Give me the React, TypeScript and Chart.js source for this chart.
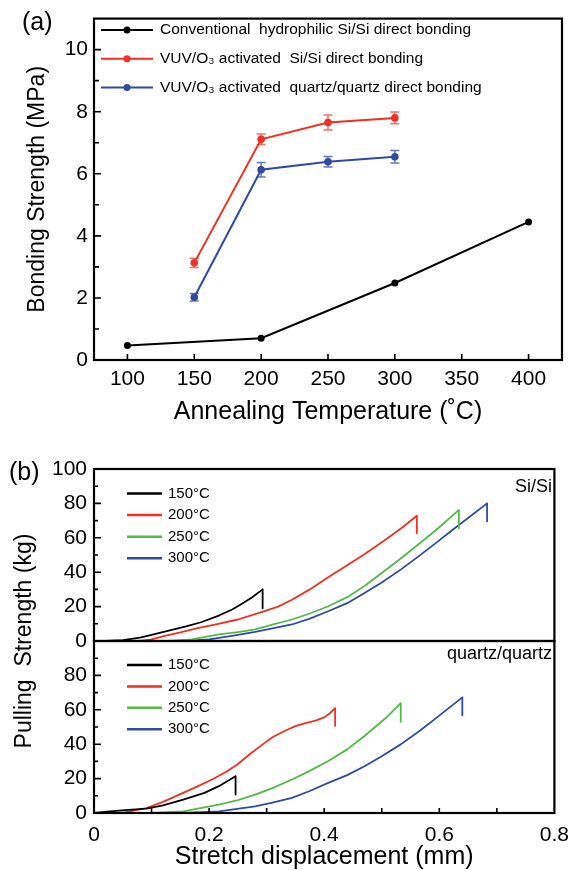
import React, { useEffect, useRef } from 'react';
import { Chart, registerables } from 'chart.js';

Chart.register(...registerables);

const FONT = '"Liberation Sans", Arial, Helvetica, sans-serif';
const BLACK = '#000000';
const RED = '#ee3124';
const BLUE = '#2f4a9f';
const GREEN = '#55b948';
const RED_ERR = 'rgba(238,49,36,0.7)';
const BLUE_ERR = 'rgba(47,74,159,0.75)';

// ---------- Panel (a) data ----------
const seriesLabelsA = [
  'Conventional  hydrophilic Si/Si direct bonding',
  'VUV/O\u2083 activated  Si/Si direct bonding',
  'VUV/O\u2083 activated  quartz/quartz direct bonding',
];
const tempsConventional = [100, 200, 300, 400];
const strengthConventional = [0.47, 0.7, 2.48, 4.45];
const tempsVuv = [150, 200, 250, 300];
const strengthVuvSi = [3.13, 7.11, 7.65, 7.8];
const errorVuvSi = [0.15, 0.17, 0.24, 0.19];
const strengthVuvQuartz = [2.02, 6.13, 6.39, 6.55];
const errorVuvQuartz = [0.12, 0.23, 0.17, 0.2];
const xTicksA = [100, 150, 200, 250, 300, 350, 400];
const yTicksA = [0, 2, 4, 6, 8, 10];

// ---------- Panel (b) data ----------
const tempLabelsB = ['150\u00b0C', '200\u00b0C', '250\u00b0C', '300\u00b0C'];

const siX150 = [0.02, 0.05, 0.08, 0.1, 0.13, 0.16, 0.186, 0.217, 0.24, 0.255, 0.275, 0.293, 0.293];
const siY150 = [0, 0.5, 2, 3.5, 6, 8.5, 10.9, 14.8, 18.3, 21.2, 25.4, 30, 19];
const siX200 = [0.08, 0.1, 0.123, 0.15, 0.18, 0.21, 0.25, 0.287, 0.32, 0.344, 0.375, 0.407, 0.44, 0.47, 0.507, 0.535, 0.561, 0.561];
const siY200 = [0, 1, 3, 5, 7.5, 9.5, 12.5, 16.3, 20, 24, 30, 37, 44, 50.5, 59, 65.8, 72.8, 62.7];
const siX250 = [0.13, 0.17, 0.217, 0.25, 0.28, 0.31, 0.344, 0.375, 0.407, 0.44, 0.47, 0.5, 0.533, 0.565, 0.596, 0.634, 0.634];
const siY250 = [0, 1, 3.8, 5.2, 6.7, 9.5, 12.5, 16, 20.2, 25.5, 32, 39.5, 48, 56.5, 65, 76.2, 65.6];
const siX300 = [0.16, 0.2, 0.24, 0.28, 0.31, 0.344, 0.375, 0.407, 0.44, 0.47, 0.5, 0.533, 0.565, 0.596, 0.62, 0.646, 0.683, 0.683];
const siY300 = [0, 1, 3, 5.3, 7.3, 9.6, 13, 17.3, 22, 27.9, 34, 41.5, 49.5, 57.5, 63.8, 70.5, 80, 69.5];

const qzX150 = [0, 0.028, 0.06, 0.091, 0.12, 0.155, 0.192, 0.217, 0.246, 0.246];
const qzY150 = [0, 1, 1.8, 2.5, 4.5, 7.8, 11.7, 15.6, 21.4, 10.7];
const qzX200 = [0.05, 0.07, 0.091, 0.12, 0.155, 0.18, 0.205, 0.23, 0.249, 0.27, 0.293, 0.31, 0.331, 0.35, 0.369, 0.385, 0.4, 0.41, 0.419, 0.419];
const qzY200 = [0, 1.5, 2.9, 6.5, 11.7, 15.5, 19.5, 24, 28.2, 34, 39.9, 44, 47.7, 50.5, 52.4, 53.7, 55.6, 58, 61, 50.6];
const qzX250 = [0.101, 0.155, 0.217, 0.25, 0.28, 0.31, 0.344, 0.375, 0.407, 0.44, 0.47, 0.507, 0.533, 0.533];
const qzY250 = [0, 1, 4.9, 7.5, 10.7, 14.5, 19.5, 24.5, 30.2, 37, 44.8, 55.2, 63.9, 53];
const qzX300 = [0.155, 0.217, 0.28, 0.31, 0.344, 0.375, 0.407, 0.44, 0.47, 0.5, 0.533, 0.565, 0.596, 0.64, 0.64];
const qzY300 = [0, 1, 3.9, 6, 8.8, 12.8, 17.5, 22, 27.2, 33, 39.9, 47.5, 55.6, 67.2, 56.9];

const xTicksB = [0, 0.2, 0.4, 0.6, 0.8];
const xTickLabelsB = ['0', '0.2', '0.4', '0.6', '0.8'];
const yTicksTopB = [0, 20, 40, 60, 80, 100];
const yTicksBotB = [0, 20, 40, 60, 80];

const toPoints = (xs: number[], ys: number[]) => xs.map((x, i) => ({ x, y: ys[i] }));

// ---------- plugins ----------
const innerTicksPlugin = {
  id: 'innerTicks',
  afterDatasetsDraw(chart: any, _a: any, opts: any) {
    const ctx = chart.ctx;
    ctx.save();
    ctx.strokeStyle = '#000';
    ctx.lineWidth = opts.lineWidth || 1.6;
    ctx.beginPath();
    for (const spec of opts.axes || []) {
      const s = chart.scales[spec.id];
      if (!s) continue;
      const n = Math.round((spec.to - spec.from) / spec.step);
      for (let i = 0; i <= n; i++) {
        const v = spec.from + i * spec.step;
        const r = v / spec.majorStep;
        const major = Math.abs(r - Math.round(r)) < 1e-6;
        const len = major ? spec.majorLen : spec.minorLen;
        const p = s.getPixelForValue(v);
        if (s.isHorizontal()) {
          ctx.moveTo(p, s.top);
          ctx.lineTo(p, s.top - len);
        } else {
          ctx.moveTo(s.right, p);
          ctx.lineTo(s.right + len, p);
        }
      }
    }
    ctx.stroke();
    ctx.restore();
  },
};

const framePlugin = {
  id: 'frame',
  afterDatasetsDraw(chart: any, _a: any, opts: any) {
    const { ctx, chartArea } = chart;
    ctx.save();
    ctx.strokeStyle = '#000';
    ctx.lineWidth = opts.lineWidth || 2;
    for (const id of opts.yIds || []) {
      const s = chart.scales[id];
      ctx.strokeRect(chartArea.left, s.top, chartArea.right - chartArea.left, s.bottom - s.top);
    }
    ctx.restore();
  },
};

const errorBarPlugin = {
  id: 'errorBars',
  beforeDatasetDraw(chart: any, args: any, opts: any) {
    const ds: any = chart.data.datasets[args.index];
    if (!ds.errorBars) return;
    const ctx = chart.ctx;
    const meta = args.meta;
    const ys = chart.scales[meta.yAxisID];
    const cap = opts.cap || 4;
    ctx.save();
    ctx.strokeStyle = ds.errorColor || ds.borderColor;
    ctx.lineWidth = opts.lineWidth || 1.5;
    meta.data.forEach((el: any, i: number) => {
      const v = ds.data[i].y;
      const e = ds.errorBars[i];
      const x = el.x;
      const y1 = ys.getPixelForValue(v + e);
      const y2 = ys.getPixelForValue(v - e);
      ctx.beginPath();
      ctx.moveTo(x, y1);
      ctx.lineTo(x, y2);
      ctx.moveTo(x - cap, y1);
      ctx.lineTo(x + cap, y1);
      ctx.moveTo(x - cap, y2);
      ctx.lineTo(x + cap, y2);
      ctx.stroke();
    });
    ctx.restore();
  },
};

const boxLegendPlugin = {
  id: 'boxLegend',
  afterDatasetsDraw(chart: any, _a: any, opts: any) {
    const ctx = chart.ctx;
    for (const g of opts.groups || []) {
      g.datasets.forEach((di: number, k: number) => {
        const ds: any = chart.data.datasets[di];
        const y = g.y + k * g.dy;
        ctx.save();
        ctx.strokeStyle = ds.borderColor;
        ctx.lineWidth = g.lineWidth;
        ctx.beginPath();
        ctx.moveTo(g.x, y);
        ctx.lineTo(g.x + g.lineLen, y);
        ctx.stroke();
        if (g.pointRadius) {
          ctx.fillStyle = ds.borderColor;
          ctx.beginPath();
          ctx.arc(g.x + g.lineLen / 2, y, g.pointRadius, 0, Math.PI * 2);
          ctx.fill();
        }
        ctx.fillStyle = '#000';
        ctx.font = `${g.fontSize}px ${FONT}`;
        ctx.textBaseline = 'middle';
        ctx.textAlign = 'left';
        ctx.fillText(ds.label, g.x + g.lineLen + g.gap, y);
        ctx.restore();
      });
    }
  },
};

const freeTextPlugin = {
  id: 'freeText',
  afterDraw(chart: any, _a: any, opts: any) {
    const ctx = chart.ctx;
    for (const t of opts.items || []) {
      ctx.save();
      ctx.font = `${t.size}px ${FONT}`;
      ctx.fillStyle = '#000';
      ctx.textAlign = t.align || 'left';
      ctx.textBaseline = 'middle';
      const y = t.y === 'area' ? (chart.chartArea.top + chart.chartArea.bottom) / 2 : t.y;
      ctx.translate(t.x, y);
      if (t.rotate) ctx.rotate(-Math.PI / 2);
      ctx.fillText(t.text, 0, 0);
      ctx.restore();
    }
  },
};

const tickFont = { family: FONT, size: 21 };

function makeConfigA(): any {
  return {
    type: 'scatter',
    data: {
      datasets: [
        {
          label: seriesLabelsA[0],
          data: toPoints(tempsConventional, strengthConventional),
          showLine: true,
          borderColor: BLACK,
          backgroundColor: BLACK,
          borderWidth: 2,
          pointRadius: 3.5,
          pointBorderWidth: 0,
        },
        {
          label: seriesLabelsA[1],
          data: toPoints(tempsVuv, strengthVuvSi),
          errorBars: errorVuvSi,
          errorColor: RED_ERR,
          showLine: true,
          borderColor: RED,
          backgroundColor: RED,
          borderWidth: 2,
          pointRadius: 3.8,
          pointBorderWidth: 0,
        },
        {
          label: seriesLabelsA[2],
          data: toPoints(tempsVuv, strengthVuvQuartz),
          errorBars: errorVuvQuartz,
          errorColor: BLUE_ERR,
          showLine: true,
          borderColor: BLUE,
          backgroundColor: BLUE,
          borderWidth: 2,
          pointRadius: 3.8,
          pointBorderWidth: 0,
        },
      ],
    },
    options: {
      animation: false,
      responsive: false,
      maintainAspectRatio: false,
      events: [],
      layout: { padding: { left: 0, right: 17, top: 17, bottom: 0 } },
      plugins: {
        legend: { display: false },
        tooltip: { enabled: false },
        errorBars: { cap: 4.5, lineWidth: 1.5 },
        innerTicks: {
          lineWidth: 1.6,
          axes: [
            { id: 'x', from: 100, to: 400, step: 50, majorStep: 50, majorLen: 6, minorLen: 6 },
            { id: 'y', from: 1, to: 10, step: 1, majorStep: 2, majorLen: 7, minorLen: 5 },
          ],
        },
        frame: { yIds: ['y'], lineWidth: 2.2 },
        boxLegend: {
          groups: [
            { datasets: [0, 1, 2], x: 101, y: 30, dy: 28.7, lineLen: 52, gap: 7, lineWidth: 2, pointRadius: 3.5, fontSize: 15.5 },
          ],
        },
        freeText: { items: [{ text: '(a)', x: 22, y: 23, size: 25 }] },
      },
      scales: {
        x: {
          type: 'linear',
          min: 75,
          max: 425,
          afterBuildTicks: (s: any) => {
            s.ticks = xTicksA.map((value) => ({ value }));
          },
          afterFit: (s: any) => {
            s.height = 80;
          },
          ticks: { font: tickFont, color: '#000', padding: 7, maxRotation: 0, autoSkip: false },
          grid: { display: false, drawTicks: false },
          border: { display: false },
          title: {
            display: true,
            text: 'Annealing Temperature (\u02daC)',
            color: '#000',
            font: { family: FONT, size: 25, lineHeight: 1 },
            padding: { top: 0, bottom: 15.5 },
          },
        },
        y: {
          type: 'linear',
          min: 0,
          max: 11,
          afterBuildTicks: (s: any) => {
            s.ticks = yTicksA.map((value) => ({ value }));
          },
          afterFit: (s: any) => {
            s.width = 94;
          },
          ticks: { font: tickFont, color: '#000', padding: 6, autoSkip: false },
          grid: { display: false, drawTicks: false },
          border: { display: false },
          title: {
            display: true,
            text: 'Bonding Strength (MPa)',
            color: '#000',
            font: { family: FONT, size: 23, lineHeight: 1 },
            padding: { top: 26, bottom: 0 },
          },
        },
      },
    },
    plugins: [errorBarPlugin, innerTicksPlugin, framePlugin, boxLegendPlugin, freeTextPlugin],
  };
}

function lineDs(label: string, xs: number[], ys: number[], color: string, axis: string) {
  return {
    label,
    data: toPoints(xs, ys),
    showLine: true,
    borderColor: color,
    backgroundColor: color,
    borderWidth: 1.8,
    borderJoinStyle: 'round',
    pointRadius: 0,
    yAxisID: axis,
  };
}

function makeConfigB(): any {
  const yScale = (ticks: number[], weight: number) => ({
    type: 'linear',
    position: 'left',
    stack: 'panelB',
    stackWeight: 1,
    weight,
    min: 0,
    max: 100,
    afterBuildTicks: (s: any) => {
      s.ticks = ticks.map((value) => ({ value }));
    },
    afterFit: (s: any) => {
      s.width = 94;
    },
    ticks: { font: tickFont, color: '#000', padding: 7, autoSkip: false },
    grid: { display: false, drawTicks: false },
    border: { display: false },
  });
  return {
    type: 'scatter',
    data: {
      datasets: [
        lineDs(tempLabelsB[0], siX150, siY150, BLACK, 'yTop'),
        lineDs(tempLabelsB[1], siX200, siY200, RED, 'yTop'),
        lineDs(tempLabelsB[2], siX250, siY250, GREEN, 'yTop'),
        lineDs(tempLabelsB[3], siX300, siY300, BLUE, 'yTop'),
        lineDs(tempLabelsB[0], qzX150, qzY150, BLACK, 'yBot'),
        lineDs(tempLabelsB[1], qzX200, qzY200, RED, 'yBot'),
        lineDs(tempLabelsB[2], qzX250, qzY250, GREEN, 'yBot'),
        lineDs(tempLabelsB[3], qzX300, qzY300, BLUE, 'yBot'),
      ],
    },
    options: {
      animation: false,
      responsive: false,
      maintainAspectRatio: false,
      events: [],
      layout: { padding: { left: 0, right: 17, top: 29, bottom: 0 } },
      plugins: {
        legend: { display: false },
        tooltip: { enabled: false },
        innerTicks: {
          lineWidth: 1.6,
          axes: [
            { id: 'x', from: 0.1, to: 0.7, step: 0.1, majorStep: 0.1, majorLen: 5, minorLen: 5 },
            { id: 'yTop', from: 10, to: 90, step: 10, majorStep: 20, majorLen: 7, minorLen: 4 },
            { id: 'yBot', from: 10, to: 90, step: 10, majorStep: 20, majorLen: 7, minorLen: 4 },
          ],
        },
        frame: { yIds: ['yTop', 'yBot'], lineWidth: 2.2 },
        boxLegend: {
          groups: [
            { datasets: [0, 1, 2, 3], x: 127, y: 53.5, dy: 21.6, lineLen: 35, gap: 6, lineWidth: 2.5, pointRadius: 0, fontSize: 15 },
            { datasets: [4, 5, 6, 7], x: 127, y: 225, dy: 21.4, lineLen: 35, gap: 6, lineWidth: 2.5, pointRadius: 0, fontSize: 15 },
          ],
        },
        freeText: {
          items: [
            { text: '(b)', x: 9, y: 33, size: 25 },
            { text: 'Si/Si', x: 552, y: 47, size: 18, align: 'right' },
            { text: 'quartz/quartz', x: 552, y: 214, size: 18, align: 'right' },
            { text: 'Pulling  Strength (kg)', x: 25, y: 'area', size: 23, align: 'center', rotate: true },
          ],
        },
      },
      scales: {
        x: {
          type: 'linear',
          min: 0,
          max: 0.8,
          afterBuildTicks: (s: any) => {
            s.ticks = xTicksB.map((value) => ({ value }));
          },
          afterFit: (s: any) => {
            s.height = 57;
          },
          ticks: {
            font: tickFont,
            color: '#000',
            padding: 10,
            maxRotation: 0,
            autoSkip: false,
            callback: (_v: any, i: number) => xTickLabelsB[i],
          },
          grid: { display: false, drawTicks: false },
          border: { display: false },
          title: {
            display: true,
            text: 'Stretch displacement (mm)',
            color: '#000',
            font: { family: FONT, size: 25, lineHeight: 1 },
            padding: { top: 0, bottom: 0 },
          },
        },
        yTop: yScale(yTicksTopB, 1),
        yBot: yScale(yTicksBotB, 0),
      },
    },
    plugins: [innerTicksPlugin, framePlugin, boxLegendPlugin, freeTextPlugin],
  };
}

export default function App() {
  const refA = useRef<HTMLCanvasElement | null>(null);
  const refB = useRef<HTMLCanvasElement | null>(null);

  useEffect(() => {
    const charts: Chart[] = [];
    if (refA.current) charts.push(new Chart(refA.current, makeConfigA()));
    if (refB.current) charts.push(new Chart(refB.current, makeConfigB()));
    return () => charts.forEach((c) => c.destroy());
  }, []);

  return (
    <div
      style={{
        position: 'absolute',
        left: 0,
        top: 0,
        width: 579,
        height: 870,
        background: '#ffffff',
        overflow: 'hidden',
      }}
    >
      <canvas
        ref={refA}
        width={579}
        height={440}
        style={{ position: 'absolute', left: 0, top: 0, width: 579, height: 440 }}
      />
      <canvas
        ref={refB}
        width={579}
        height={430}
        style={{ position: 'absolute', left: 0, top: 440, width: 579, height: 430 }}
      />
    </div>
  );
}
